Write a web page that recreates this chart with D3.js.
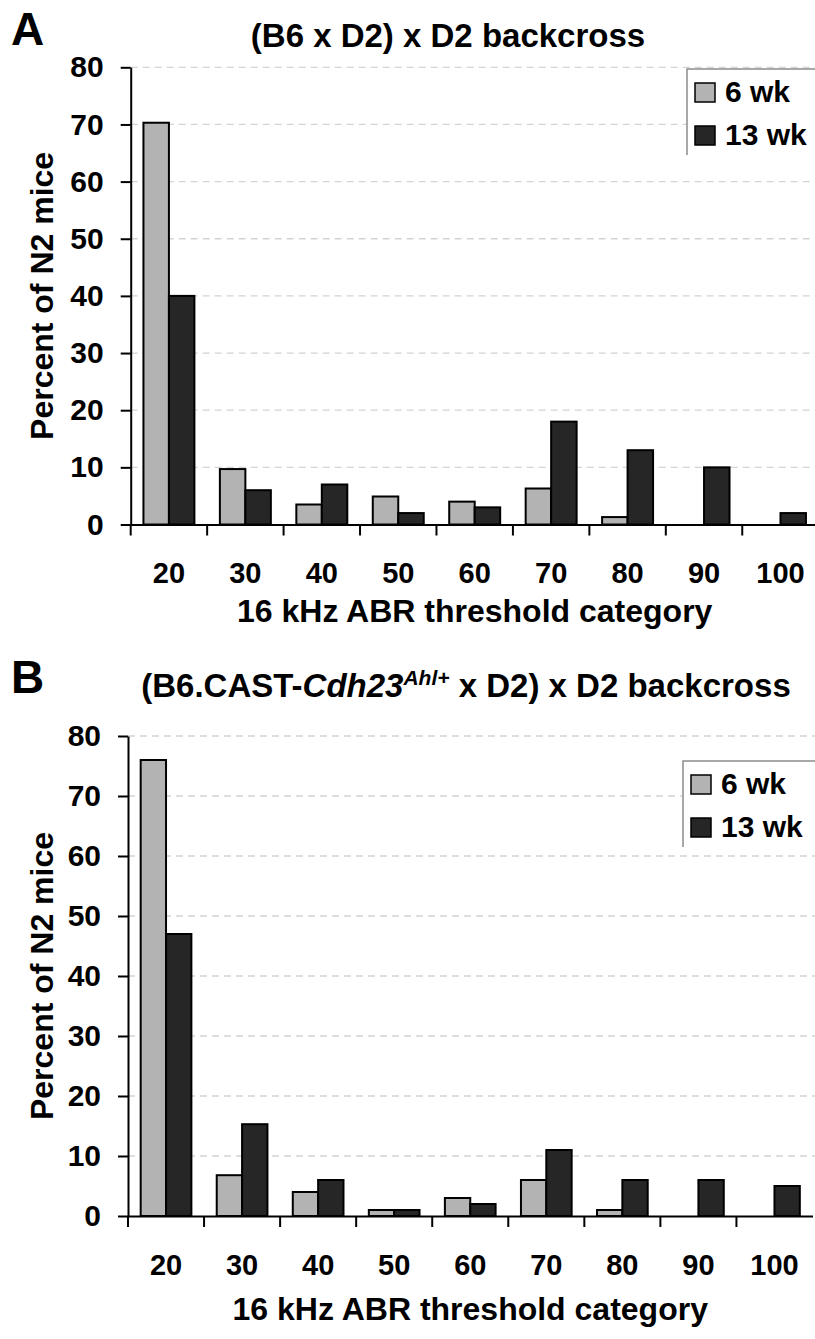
<!DOCTYPE html>
<html>
<head>
<meta charset="utf-8">
<script src="https://cdn.jsdelivr.net/npm/d3@7"></script>
<style>
  body { margin: 0; background: #fff; }
  text { font-family: "Liberation Sans", Arial, sans-serif; font-weight: bold; fill: #000; }
</style>
</head>
<body>
<script>
const WIDTH  = 815;
const HEIGHT = 1339;

// ABR threshold categories (x axis)
const categories  = ["20", "30", "40", "50", "60", "70", "80", "90", "100"];
const seriesNames = ["6 wk", "13 wk"];
const seriesColors = ["#b3b3b3", "#262626"];
const yTicks = [0, 10, 20, 30, 40, 50, 60, 70, 80];
const gridTicks = [10, 20, 30, 40, 50, 60, 70, 80];

// Panel A : (B6 x D2) x D2 backcross, percent of N2 mice
const panelA_6wk  = [70.3, 9.7, 3.5, 4.9, 4.0, 6.3, 1.3, 0, 0];
const panelA_13wk = [40, 6, 7, 2, 3, 18, 13, 10, 2];

// Panel B : (B6.CAST-Cdh23 x D2) x D2 backcross
const panelB_6wk  = [76, 6.8, 4, 1, 3, 6, 1, 0, 0];
const panelB_13wk = [47, 15.3, 6, 1, 2, 11, 6, 6, 5];

const svg = d3.select("body").append("svg")
  .attr("width", WIDTH)
  .attr("height", HEIGHT);

function drawPanel(p) {
  const g = svg.append("g");

  const x = d3.scaleBand()
    .domain(categories)
    .range([p.left, p.right])
    .paddingInner(1/3)
    .paddingOuter(1/6);
  const xSeries = d3.scaleBand()
    .domain(seriesNames)
    .range([0, x.bandwidth()]);
  const y = d3.scaleLinear().domain([0, 80]).range([p.bottom, p.top]);

  // dashed gridlines
  g.append("g").selectAll("line")
    .data(gridTicks)
    .enter().append("line")
      .attr("x1", p.left).attr("x2", WIDTH)
      .attr("y1", d => y(d)).attr("y2", d => y(d))
      .style("stroke", "#d4d4d4")
      .style("stroke-width", 1.3)
      .style("stroke-dasharray", "7,5");

  // bars
  const rows = categories.map((c, i) => ({ cat: c, vals: [p.values[0][i], p.values[1][i]] }));
  g.append("g").selectAll("g")
    .data(rows)
    .enter().append("g")
      .attr("transform", d => "translate(" + x(d.cat) + ",0)")
    .selectAll("rect")
    .data(d => d.vals.map((v, k) => ({ key: seriesNames[k], v: v, k: k })).filter(e => e.v > 0))
    .enter().append("rect")
      .attr("x", d => xSeries(d.key))
      .attr("y", d => y(d.v))
      .attr("width", xSeries.bandwidth())
      .attr("height", d => y(0) - y(d.v))
      .style("fill", d => seriesColors[d.k])
      .style("stroke", "#000")
      .style("stroke-width", 2);

  // y axis
  const yAxis = g.append("g")
    .attr("transform", "translate(" + p.left + ",0)")
    .call(d3.axisLeft(y).tickValues(yTicks).tickSize(10).tickSizeOuter(0).tickPadding(17));
  yAxis.selectAll("path, line").style("stroke", "#000").style("stroke-width", 2);
  yAxis.selectAll("text").style("font-size", "30px").style("font-family", "'Liberation Sans', Arial, sans-serif").style("font-weight", "bold");

  // x axis: labels centred on categories, ticks on category boundaries
  const xAxis = g.append("g")
    .attr("transform", "translate(0," + p.bottom + ")")
    .call(d3.axisBottom(x).tickSize(0).tickSizeOuter(0).tickPadding(38));
  xAxis.select(".domain").style("stroke", "#000").style("stroke-width", 2);
  xAxis.selectAll("text").style("font-size", "29px").style("font-family", "'Liberation Sans', Arial, sans-serif").style("font-weight", "bold");
  const step = x.step();
  xAxis.selectAll(".boundary")
    .data(categories)
    .enter().append("line")
      .attr("class", "boundary")
      .attr("x1", d => x(d) - step / 6).attr("x2", d => x(d) - step / 6)
      .attr("y1", 0).attr("y2", 11)
      .style("stroke", "#000").style("stroke-width", 2);

  // axis titles
  g.append("text")
    .attr("x", (p.left + p.right) / 2)
    .attr("y", p.xTitleY)
    .style("font-size", "32px")
    .style("text-anchor", "middle")
    .text("16 kHz ABR threshold category");
  g.append("text")
    .attr("transform", "rotate(-90)")
    .attr("x", -(p.top + p.bottom) / 2)
    .attr("y", 53)
    .style("font-size", "32px")
    .style("text-anchor", "middle")
    .text("Percent of N2 mice");

  // panel letter
  g.append("text")
    .attr("x", 11)
    .attr("y", p.letterY)
    .style("font-size", "46px")
    .text(p.letter);

  // chart title
  const title = g.append("text")
    .attr("x", p.titleX)
    .attr("y", p.titleY)
    .style("font-size", "33px")
    .style("text-anchor", "middle");
  p.title(title);

  // legend (box runs off the right edge; only top and left border show)
  const leg = g.append("g").attr("transform", "translate(" + p.legendX + "," + p.legendY + ")");
  leg.append("rect")
    .attr("x", 0).attr("y", 0).attr("width", 160).attr("height", 86)
    .style("fill", "#fff");
  leg.append("path")
    .attr("d", "M0,86V0H160")
    .style("fill", "none").style("stroke", "#8c8c8c").style("stroke-width", 1.5);
  seriesNames.forEach((s, k) => {
    leg.append("rect")
      .attr("x", 8).attr("y", 14 + k * 43)
      .attr("width", 20).attr("height", 19)
      .style("fill", seriesColors[k]).style("stroke", "#000").style("stroke-width", 1.5);
    leg.append("text")
      .attr("x", 38).attr("y", 33 + k * 43)
      .style("font-size", "30px")
      .text(s);
  });
}

drawPanel({
  letter: "A", letterY: 45,
  left: 130.7, right: 818.7, top: 67.3, bottom: 524.5,
  xTitleY: 622,
  titleX: 448, titleY: 47,
  title: t => t.text("(B6 x D2) x D2 backcross"),
  legendX: 687, legendY: 69,
  values: [panelA_6wk, panelA_13wk]
});

drawPanel({
  letter: "B", letterY: 693,
  left: 128, right: 812.5, top: 736, bottom: 1216,
  xTitleY: 1320,
  titleX: 466, titleY: 697,
  title: t => {
    t.append("tspan").text("(B6.CAST-");
    t.append("tspan").style("font-style", "italic").text("Cdh23");
    t.append("tspan").style("font-style", "italic").style("font-size", "21px").attr("dy", -12).text("Ahl+");
    t.append("tspan").attr("dy", 12).text(" x D2) x D2 backcross");
  },
  legendX: 683, legendY: 761,
  values: [panelB_6wk, panelB_13wk]
});
</script>
</body>
</html>
